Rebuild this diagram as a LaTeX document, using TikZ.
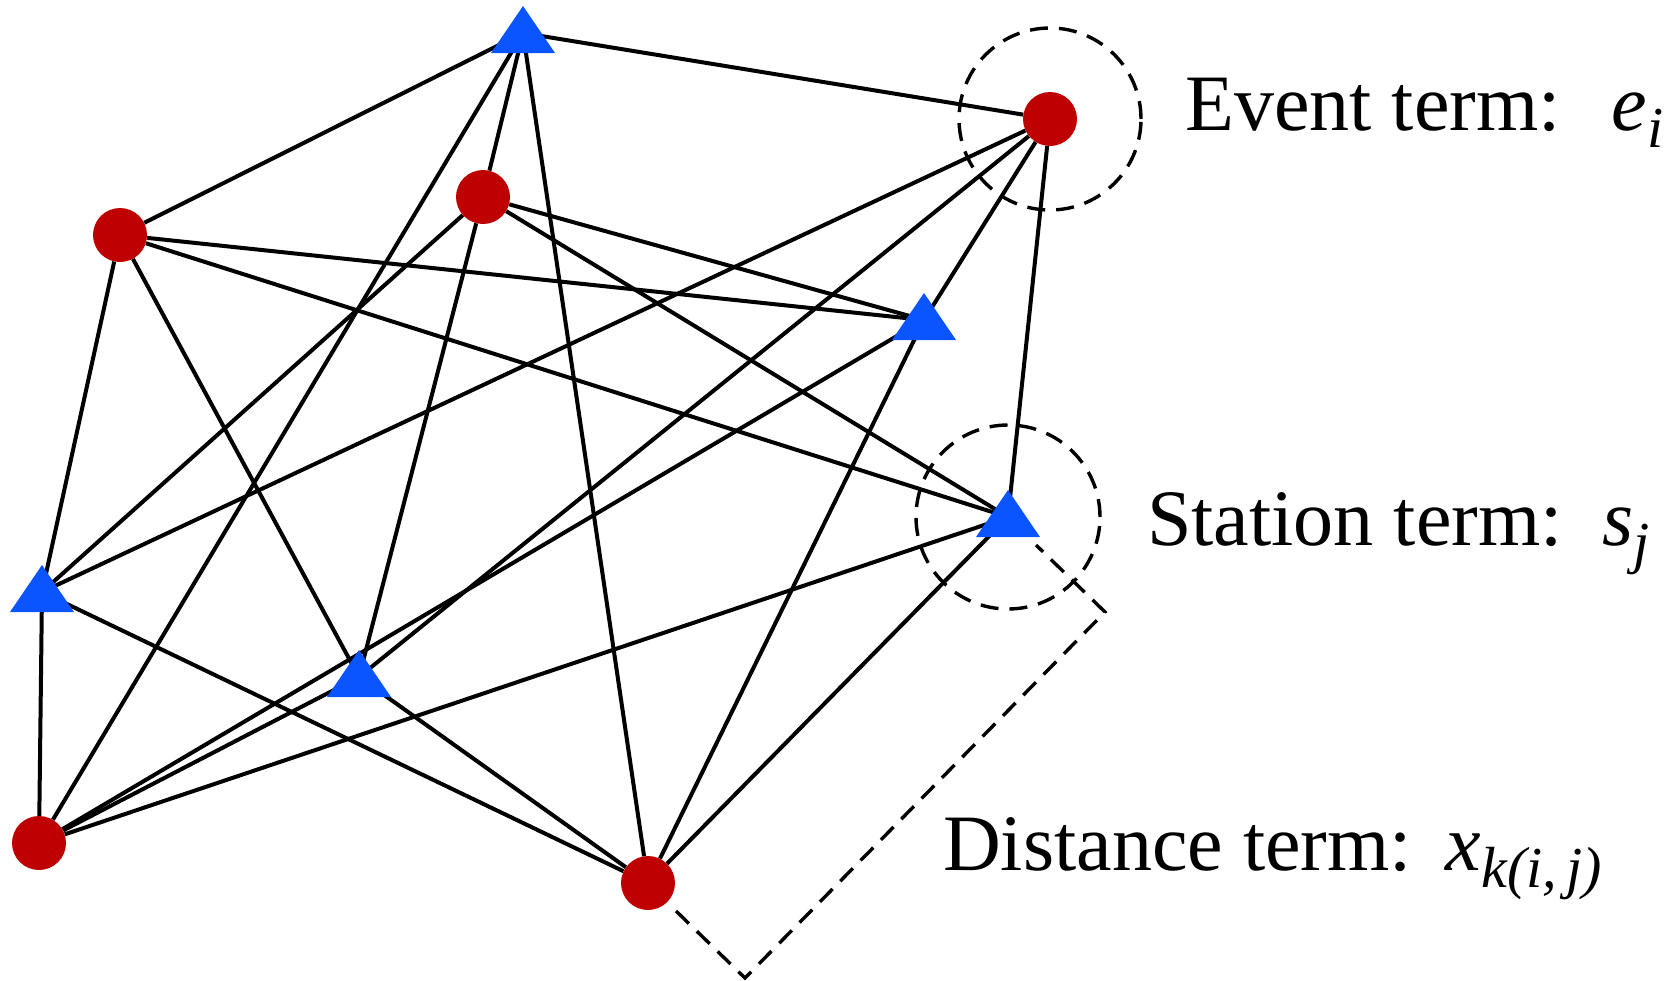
\documentclass[tikz,border=0pt]{standalone}
\usepackage{fontspec}
\setmainfont{Liberation Serif}
\usetikzlibrary{calc}
\definecolor{evred}{RGB}{190,0,0}
\definecolor{stblue}{RGB}{10,85,255}
\newcommand\subtxt[1]{\raisebox{-17pt}{\fontsize{58}{62}\selectfont\itshape #1}}
\newcommand\stationshape[1]{\fill[stblue] ($(#1)+(0,-27)$) -- ++(32,47) -- ++(-64,0) -- cycle;}
\begin{document}
\begin{tikzpicture}[x=1pt,y=-1pt,
  event/.style={circle, fill=evred, inner sep=0pt, minimum size=54pt},
  edge/.style={line width=4pt, black},
  dashring/.style={line width=3.4pt, dash pattern=on 18pt off 11pt},
  termtext/.style={anchor=base west, inner sep=0pt, font=\fontsize{80}{90}\selectfont}
]
\useasboundingbox (0,0) rectangle (1676,980);
% events
\node[event] (E1) at (1050,119) {};
\node[event] (E2) at (483,197) {};
\node[event] (E3) at (120,235) {};
\node[event] (E4) at (39,843) {};
\node[event] (E5) at (648,883) {};
% stations
\coordinate (S1) at (523,33);
\coordinate (S2) at (924,320);
\coordinate (S3) at (1008,517);
\coordinate (S4) at (42,592);
\coordinate (S5) at (359,677);
% edges (complete bipartite)
\foreach \e in {E1,E2,E3,E4,E5}{
  \foreach \s in {S1,S2,S3,S4,S5}{
    \draw[edge] (\e) -- (\s);
  }
}
% dashed rings
\draw[dashring] (E1.center) circle (91pt);
\draw[dashring] (S3) circle (92pt);
% dashed bracket
\draw[dashring] ($(E5)+(28,28)$) -- ($(E5)+(97,95)$) -- ($(S3)+(97,95)$) -- ($(S3)+(28,28)$);
% station triangles
\stationshape{S1}
\stationshape{S2}
\stationshape{S3}
\stationshape{S4}
\stationshape{S5}
% labels
\node[termtext] (lblE) at (1185,130) {Event term:\hspace{51pt}\textit{e}\subtxt{i}};
\node[termtext] (lblS) at (1147,545) {Station term:\hspace{40pt}\textit{s}\subtxt{j}};
\node[termtext] (lblD) at (943,870) {Distance term:\hspace{34pt}\textit{x}\subtxt{k(i,\,j)}};
\end{tikzpicture}
\end{document}
